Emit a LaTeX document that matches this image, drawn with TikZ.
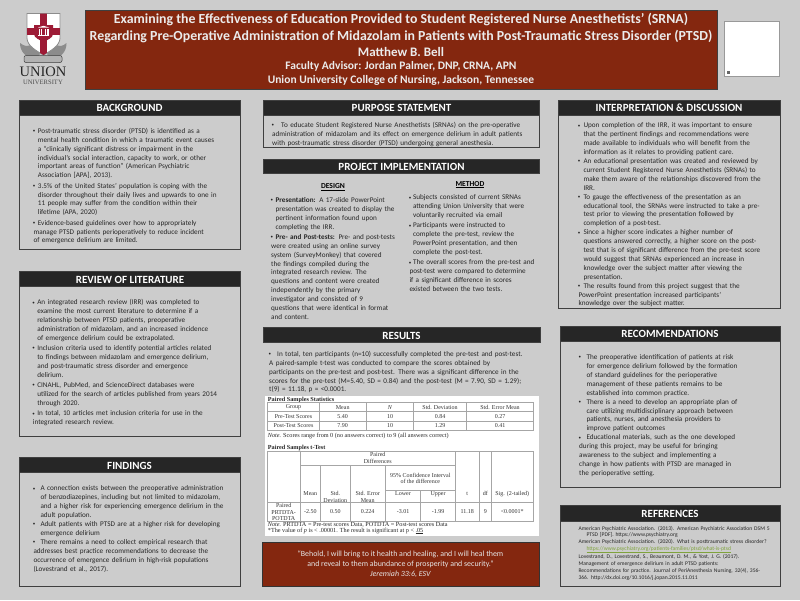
\documentclass[tikz,border=0pt]{standalone}
\usepackage{fontspec}
\setmainfont{Carlito}
\newfontfamily\tablefont{Liberation Serif}
\newlength{\bulind}
\newcommand{\bul}{\par\hangindent=\bulind\hangafter=1\noindent\makebox[\bulind][l]{\hspace{-.6pt}\raisebox{.7pt}{\fontsize{5}{5}\selectfont\textbullet}}\strut}
\definecolor{pagegray}{HTML}{CCCCCC}
\definecolor{headdark}{HTML}{262626}
\definecolor{framedark}{HTML}{3F3F3F}
\definecolor{titlered}{HTML}{84270F}
\definecolor{crestred}{HTML}{9D1B36}
\definecolor{crestgray}{HTML}{8C8C8C}
\definecolor{linkgreen}{HTML}{7FA33C}
\definecolor{tableline}{HTML}{A6A6A6}
\tikzset{
  panelframe/.style={draw=framedark,line width=.8pt,fill=pagegray},
  headband/.style={fill=headdark,draw=framedark,line width=.5pt},
  headtitle/.style={text=white,font=\fontsize{11}{12}\selectfont\bfseries,inner sep=0pt},
  titleline/.style={text=white!92!black,font=\fontsize{#1}{#1}\selectfont\bfseries,inner sep=0pt},
  bodytext/.style={anchor=north west,inner sep=0pt,text width=200pt,align=left,text=black!85,
    font=\fontsize{7.2}{8.9}\selectfont,execute at begin node={\setlength{\bulind}{#1}}},
  spreadtext/.style={bodytext=#1,execute at begin node={\setlength{\bulind}{#1}\setlength{\parskip}{1.4pt}}},
  subhead/.style={inner sep=0pt,text=black,font=\fontsize{7.6}{9}\selectfont\bfseries},
  tablecell/.style={inner sep=0pt,align=center,text=black!80,font=\tablefont\fontsize{6}{6.2}\selectfont},
  tablenote/.style={anchor=west,inner sep=0pt,text=black!85,font=\tablefont\fontsize{6.2}{6.2}\selectfont},
  tablerule/.style={draw=tableline,line width=.6pt}
}
\begin{document}
\begin{tikzpicture}[x=1pt,y=-1pt]
  \useasboundingbox (0,0) rectangle (800,600);
  \fill[pagegray] (0,0) rectangle (800,600);

  % crest
  \fill[crestgray] (33,43) .. controls (28,48) and (24,46) .. (20,43) .. controls (20,52) and (26,58) .. (36,59) -- (40,54) -- cycle;
  \fill[crestgray] (54,43) .. controls (59,48) and (63,46) .. (66.5,43) .. controls (66.5,52) and (61,58) .. (51,59) -- (47,54) -- cycle;
  \draw[crestgray,line width=.8pt,fill=white] (27,13.5) -- (60,13.5) -- (60,38) .. controls (60,46) and (50,51) .. (43.5,55) .. controls (37,51) and (27,46) .. (27,38) -- cycle;
  \begin{scope}
    \clip (27,13.5) -- (60,13.5) -- (60,38) .. controls (60,46) and (50,51) .. (43.5,55) .. controls (37,51) and (27,46) .. (27,38) -- cycle;
    \fill[crestred] (40.2,13) rectangle (46.8,56);
    \fill[crestred] (27,28) rectangle (60,35);
  \end{scope}
  \fill[crestred] (34,25) -- (53,25) -- (53,34) .. controls (53,38) and (47,40) .. (43.5,42) .. controls (40,40) and (34,38) .. (34,34) -- cycle;
  \fill[white] (38,27.5) -- (43.5,25.8) -- (49,27.5) -- cycle;
  \fill[white] (38,35) rectangle (49,36.2);
  \fill[white] (38.5,28.5) rectangle (39.7,34.5);
  \fill[white] (41,28.5) rectangle (42.2,34.5);
  \fill[white] (44.8,28.5) rectangle (46,34.5);
  \fill[white] (47.3,28.5) rectangle (48.5,34.5);
  \draw[framedark,line width=.5pt,fill=black!30,rounded corners=2pt] (24,55.5) rectangle (62,62.5);
  \node[inner sep=0pt,text=black!85,font=\tablefont\fontsize{14.5}{15}\selectfont] (unionword) at (43,71.8) {UNION};
  \node[inner sep=0pt,text=black!70,font=\tablefont\fontsize{6.6}{7}\selectfont] (universityword) at (43,82) {UNIVERSITY};

  % title
  \draw[fill=titlered,draw=framedark,line width=.7pt] (85,10) rectangle (717.5,89.2);
  \node[titleline=13.85] (titleone) at (401,20) {Examining the Effectiveness of Education Provided to Student Registered Nurse Anesthetists’ (SRNA)};
  \node[titleline=13.85] (titletwo) at (401,36.5) {Regarding Pre-Operative Administration of Midazolam in Patients with Post-Traumatic Stress Disorder (PTSD)};
  \node[titleline=13] (authorline) at (401,52) {Matthew B. Bell};
  \node[titleline=11.5] (advisorline) at (401,66.5) {Faculty Advisor: Jordan Palmer, DNP, CRNA, APN};
  \node[titleline=11.5] (collegeline) at (401,80) {Union University College of Nursing, Jackson, Tennessee};

  % blank corner box
  \draw[fill=white,draw=black!40,line width=.7pt] (724.5,21.7) rectangle (779.3,76.7);
  \fill[black!60] (726.5,70.5) rectangle (730.2,74.2);

  % background
  \draw[panelframe] (19.5,100) rectangle (240,249.3);
  \draw[headband] (19.5,100) rectangle (240,115);
  \node[headtitle] (backgroundhead) at (129.5,108) {BACKGROUND};
  \node[spreadtext=4.4pt] (backgroundtext) at (33.3,122.8) {%
    \bul Post-traumatic stress disorder (PTSD) is identified as a\newline
    mental health condition in which a traumatic event causes\newline
    a “clinically significant distress or impairment in the\newline
    individual’s social interaction, capacity to work, or other\newline
    important areas of function” (American Psychiatric\newline
    Association [APA], 2013).
    \bul 3.5\% of the United States’ population is coping with the\newline
    disorder throughout their daily lives and upwards to one in\newline
    11 people may suffer from the condition within their\newline
    lifetime (APA, 2020)
    \bul Evidence-based guidelines over how to appropriately\newline
    manage PTSD patients perioperatively to reduce incident\newline
    of emergence delirium are limited.};

  % review of literature
  \draw[panelframe] (19.5,271) rectangle (240.5,436);
  \draw[headband] (19.5,271) rectangle (240.5,286);
  \node[headtitle] (reviewhead) at (130,279.5) {REVIEW OF LITERATURE};
  \node[spreadtext=4.4pt] (reviewtext) at (32.7,294.2) {%
    \bul An integrated research review (IRR) was completed to\newline
    examine the most current literature to determine if a\newline
    relationship between PTSD patients, preoperative\newline
    administration of midazolam, and an increased incidence\newline
    of emergence delirium could be extrapolated.
    \bul Inclusion criteria used to identify potential articles related\newline
    to findings between midazolam and emergence delirium,\newline
    and post-traumatic stress disorder and emergence\newline
    delirium.
    \bul CINAHL, PubMed, and ScienceDirect databases were\newline
    utilized for the search of articles published from years 2014\newline
    through 2020.
    \bul In total, 10 articles met inclusion criteria for use in the\newline
    integrated research review.};

  % findings
  \draw[panelframe] (19.5,457.7) rectangle (240,586);
  \draw[headband] (19.5,457.7) rectangle (240,472.7);
  \node[headtitle] (findingshead) at (129.5,466) {FINDINGS};
  \node[bodytext=7pt] (findingstext) at (33.3,481.8) {%
    \bul A connection exists between the preoperative administration\newline
    of benzodiazepines, including but not limited to midazolam,\newline
    and a higher risk for experiencing emergence delirium in the\newline
    adult population.
    \bul Adult patients with PTSD are at a higher risk for developing\newline
    emergence delirium
    \bul There remains a need to collect empirical research that\newline
    addresses best practice recommendations to decrease the\newline
    occurrence of emergence delirium in high-risk populations\newline
    (Lovestrand et al., 2017).};

  % purpose statement
  \draw[panelframe] (263,100) rectangle (539.7,147.7);
  \draw[headband] (263,100) rectangle (539.7,115);
  \node[headtitle] (purposehead) at (401.5,108) {PURPOSE STATEMENT};
  \node[bodytext=9pt,text width=264pt] (purposetext) at (272,118.5) {%
    \bul To educate Student Registered Nurse Anesthetists (SRNAs) on the pre-operative\newline
    administration of midazolam and its effect on emergence delirium in adult patients\newline
    with post-traumatic stress disorder (PTSD) undergoing general anesthesia.};

  % project implementation
  \draw[headband] (263,159) rectangle (539.7,173.7);
  \node[headtitle] (projecthead) at (401.5,167) {PROJECT IMPLEMENTATION};
  \node[subhead] (designhead) at (333,187.3) {\underline{DESIGN}};
  \node[subhead] (methodhead) at (470,184.7) {\underline{METHOD}};
  \node[spreadtext=4.4pt,text width=130pt] (designtext) at (271,191.8) {%
    \bul \textbf{Presentation:} A 17-slide PowerPoint\newline
    presentation was created to display the\newline
    pertinent information found upon\newline
    completing the IRR.
    \bul \textbf{Pre- and Post-tests:} Pre- and post-tests\newline
    were created using an online survey\newline
    system (SurveyMonkey) that covered\newline
    the findings compiled during the\newline
    integrated research review.  The\newline
    questions and content were created\newline
    independently by the primary\newline
    investigator and consisted of 9\newline
    questions that were identical in format\newline
    and content.};
  \node[spreadtext=3.6pt,text width=128pt] (methodtext) at (409.3,189.2) {%
    \bul Subjects consisted of current SRNAs\newline
    attending Union University that were\newline
    voluntarily recruited via email
    \bul Participants were instructed to\newline
    complete the pre-test, review the\newline
    PowerPoint presentation, and then\newline
    complete the post-test.
    \bul The overall scores from the pre-test and\newline
    post-test were compared to determine\newline
    if a significant difference in scores\newline
    existed between the two tests.};

  % results
  \draw[headband] (263.5,327.3) rectangle (540,342.3);
  \node[headtitle] (resultshead) at (401.5,335.5) {RESULTS};
  \node[bodytext=8pt,text width=268pt] (resultstext) at (269,347.2) {%
    \bul In total, ten participants (n=10) successfully completed the pre-test and post-test.\newline
    A paired-sample t-test was conducted to compare the scores obtained by\newline
    participants on the pre-test and post-test. There was a significant difference in the\newline
    scores for the pre-test (M=5.40, SD = 0.84) and the post-test (M = 7.90, SD = 1.29);\newline
    t(9) = 11.18, p = <0.0001.};

  % statistics tables
  \fill[white] (264.7,396) rectangle (538.7,536);
  \node[tablenote] (statstitle) at (267.7,399.6) {\textbf{Paired Samples Statistics}};
  \draw[tablerule] (267.7,402.7) rectangle (533.7,430);
  \draw[tablerule] (267.7,411.7) -- (533.7,411.7);
  \draw[tablerule] (267.7,421) -- (533.7,421);
  \draw[tablerule] (319.3,402.7) -- (319.3,430);
  \draw[tablerule] (366,402.7) -- (366,430);
  \draw[tablerule] (413.7,402.7) -- (413.7,430);
  \draw[tablerule] (466,402.7) -- (466,430);
  \node[tablecell] (groupcol) at (293.5,407.2) {Group};
  \node[tablecell] (meancol) at (342.7,407.2) {Mean};
  \node[tablecell] (ncol) at (390,407.2) {\textit{N}};
  \node[tablecell] (sdcol) at (440,407.2) {Std. Deviation};
  \node[tablecell] (secol) at (500,407.2) {Std. Error Mean};
  \node[tablecell] (prerow) at (293.5,416.6) {Pre-Test Scores};
  \node[tablecell] (premean) at (342.7,416.6) {5.40};
  \node[tablecell] (pren) at (390,416.6) {10};
  \node[tablecell] (presd) at (440,416.6) {0.84};
  \node[tablecell] (prese) at (500,416.6) {0.27};
  \node[tablecell] (postrow) at (293.5,425.5) {Post-Test Scores};
  \node[tablecell] (postmean) at (342.7,425.5) {7.90};
  \node[tablecell] (postn) at (390,425.5) {10};
  \node[tablecell] (postsd) at (440,425.5) {1.29};
  \node[tablecell] (postse) at (500,425.5) {0.41};
  \node[tablenote] (statsnote) at (267.7,435.7) {\textit{Note.} Scores range from 0 (no answers correct) to 9 (all answers correct)};

  \node[tablenote] (ttesttitle) at (267.7,447.7) {\textbf{Paired Samples t-Test}};
  \draw[tablerule] (267.7,451.7) rectangle (533.7,521.7);
  \draw[tablerule] (300.3,465.3) -- (455.3,465.3);
  \draw[tablerule] (385.3,490.7) -- (455.3,490.7);
  \draw[tablerule] (267.7,502.3) -- (533.7,502.3);
  \draw[tablerule] (300.3,451.7) -- (300.3,521.7);
  \draw[tablerule] (320.3,465.3) -- (320.3,521.7);
  \draw[tablerule] (350.3,465.3) -- (350.3,521.7);
  \draw[tablerule] (385.3,465.3) -- (385.3,521.7);
  \draw[tablerule] (420.7,490.7) -- (420.7,521.7);
  \draw[tablerule] (455.3,451.7) -- (455.3,521.7);
  \draw[tablerule] (479.3,451.7) -- (479.3,521.7);
  \draw[tablerule] (491.3,451.7) -- (491.3,521.7);
  \node[tablecell] (paireddiff) at (377.8,458) {Paired\\Differences};
  \node[tablecell] (confhead) at (420.3,478.2) {95\% Confidence Interval\\of the difference};
  \node[tablecell] (meanhead) at (310.3,493.7) {Mean};
  \node[tablecell] (stdhead) at (335.3,496.9) {Std.\\Deviation};
  \node[tablecell] (errhead) at (367.7,496.9) {Std. Error\\Mean};
  \node[tablecell] (lowerhead) at (403,493.7) {Lower};
  \node[tablecell] (upperhead) at (438,493.7) {Upper};
  \node[tablecell] (thead) at (467.3,493.7) {t};
  \node[tablecell] (dfhead) at (485.3,493.7) {df};
  \node[tablecell] (sighead) at (512.3,493.7) {Sig. (2-tailed)};
  \node[tablecell] (pairrow) at (283.7,512) {Paired\\PRTDTA-\\POTDTA};
  \node[tablecell] (pairmean) at (310.3,512) {-2.50};
  \node[tablecell] (pairstd) at (335.3,512) {0.50};
  \node[tablecell] (pairerr) at (367.7,512) {0.224};
  \node[tablecell] (pairlower) at (403,512) {-3.01};
  \node[tablecell] (pairupper) at (438,512) {-1.99};
  \node[tablecell] (pairt) at (467.3,512) {11.18};
  \node[tablecell] (pairdf) at (485.3,512) {9};
  \node[tablecell] (pairsig) at (512.3,512) {<0.0001*};
  \node[tablenote] (ttestnote) at (267.7,525) {\textit{Note.} PRTDTA = Pre-test scores Data, POTDTA = Post-test scores Data};
  \node[tablenote] (pnote) at (267.7,531) {*The value of \textit{p} is < .00001. The result is significant at p < \underline{.05}};

  % quote
  \draw[fill=titlered,draw=black!80,line width=.8pt] (262,542.3) rectangle (539.3,586);
  \node[inner sep=0pt,align=center,text=white!90!black,font=\fontsize{7.9}{10}\selectfont] (quotetext) at (400.5,564.5) {“Behold, I will bring to it health and healing, and I will heal them\\and reveal to them abundance of prosperity and security.”\\\textit{Jeremiah 33:6, ESV}};

  % interpretation and discussion
  \draw[panelframe] (558.3,100) rectangle (780,308.3);
  \draw[headband] (558.3,100) rectangle (780,115);
  \node[headtitle] (interphead) at (669,108) {INTERPRETATION \& DISCUSSION};
  \node[bodytext=5pt,text width=200pt] (interptext) at (578.3,118.8) {%
    \bul Upon completion of the IRR, it was important to ensure\newline
    that the pertinent findings and recommendations were\newline
    made available to individuals who will benefit from the\newline
    information as it relates to providing patient care.
    \bul An educational presentation was created and reviewed by\newline
    current Student Registered Nurse Anesthetists (SRNAs) to\newline
    make them aware of the relationships discovered from the\newline
    IRR.
    \bul To gauge the effectiveness of the presentation as an\newline
    educational tool, the SRNAs were instructed to take a pre-\newline
    test prior to viewing the presentation followed by\newline
    completion of a post-test.
    \bul Since a higher score indicates a higher number of\newline
    questions answered correctly, a higher score on the post-\newline
    test that is of significant difference from the pre-test score\newline
    would suggest that SRNAs experienced an increase in\newline
    knowledge over the subject matter after viewing the\newline
    presentation.
    \bul The results found from this project suggest that the\newline
    PowerPoint presentation increased participants’\newline
    knowledge over the subject matter.};

  % recommendations
  \draw[panelframe] (560.3,326.3) rectangle (780,487.7);
  \draw[headband] (560.3,326.3) rectangle (780,341);
  \node[headtitle] (recshead) at (670,334) {RECOMMENDATIONS};
  \node[bodytext=7.3pt,text width=198pt] (recstext) at (579,350.5) {%
    \bul The preoperative identification of patients at risk\newline
    for emergence delirium followed by the formation\newline
    of standard guidelines for the perioperative\newline
    management of these patients remains to be\newline
    established into common practice.
    \bul There is a need to develop an appropriate plan of\newline
    care utilizing multidisciplinary approach between\newline
    patients, nurses, and anesthesia providers to\newline
    improve patient outcomes
    \bul Educational materials, such as the one developed\newline
    during this project, may be useful for bringing\newline
    awareness to the subject and implementing a\newline
    change in how patients with PTSD are managed in\newline
    the perioperative setting.};

  % references
  \draw[panelframe] (560.3,505.7) rectangle (780,586);
  \draw[headband] (560.3,505.7) rectangle (780,521.5);
  \node[headtitle] (refshead) at (670,514) {REFERENCES};
  \node[anchor=north west,inner sep=0pt,text width=198pt,align=left,text=black!85,font=\fontsize{5.6}{6.7}\selectfont] (refstext) at (578.3,525.3) {%
    \hangindent=8pt\hangafter=1\strut American Psychiatric Association. (2013). American Psychiatric Association DSM 5\newline
    PTSD [PDF].  https://www.psychiatry.org\par
    \hangindent=8pt\hangafter=1\strut American Psychiatric Association. (2020). What is posttraumatic stress disorder?\newline
    {\color{linkgreen}\underline{https://www.psychiatry.org/patients-families/ptsd/what-is-ptsd}}\par
    \hangindent=8pt\hangafter=1\strut Lovestrand, D., Lovestrand, S., Beaumont, D. M., \& Yost, J. G. (2017).\newline
    Management of emergence delirium in adult PTSD patients:\newline
    Recommendations for practice. Journal of PeriAnesthesia Nursing, 32(4), 356-\newline
    366. http://dx.doi.org/10.1016/j.jopan.2015.11.011};
\end{tikzpicture}
\end{document}
